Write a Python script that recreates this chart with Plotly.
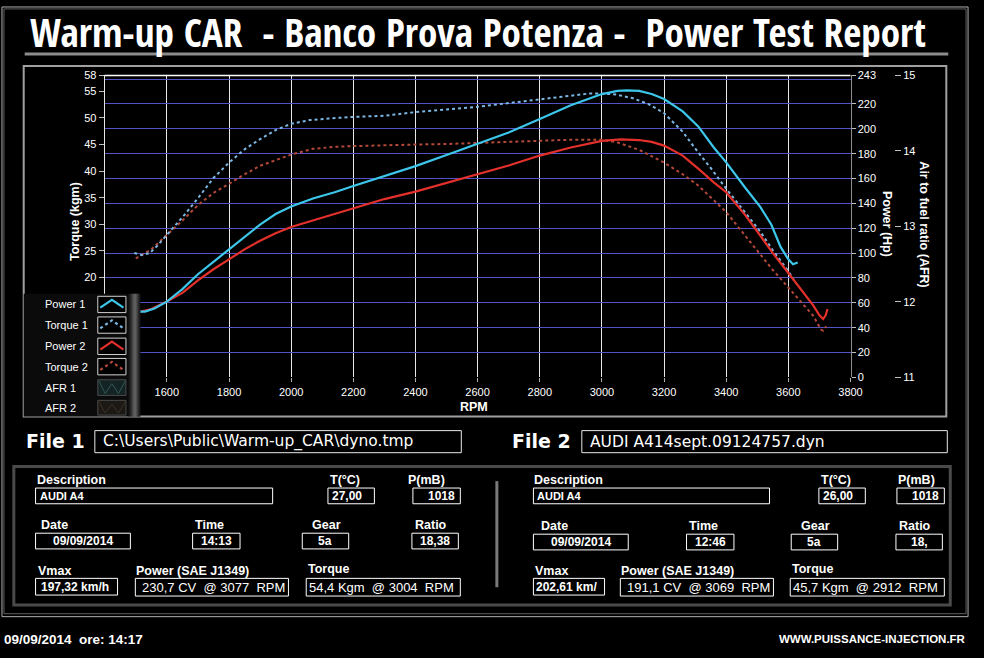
import plotly.graph_objects as go

W, H = 984, 658

# ---- dyno curves (rpm / hp / kgm) ----
rpm_power1 = [1500, 1530, 1560, 1600, 1650, 1700, 1750, 1800, 1850, 1900, 1950, 2000, 2070,
              2140, 2200, 2300, 2400, 2500, 2600, 2700, 2800, 2900, 3000, 3050, 3080, 3120,
              3160, 3200, 3260, 3310, 3360, 3400, 3460, 3510, 3545, 3575, 3600, 3615, 3630]
power1_hp = [53, 53, 55.5, 61, 71, 83, 93, 103, 113, 123, 131.5, 137.5, 144,
             149, 154, 162, 170, 179, 188, 197, 208, 219, 228, 230.5, 231, 230.5,
             228, 224, 214, 202, 185, 173, 153, 137, 123, 105, 95, 91, 92.5]

rpm_torque1 = [1495, 1520, 1545, 1570, 1600, 1650, 1700, 1750, 1800, 1850, 1900, 1950, 2000,
               2060, 2120, 2200, 2300, 2400, 2500, 2600, 2700, 2800, 2900, 2960, 3000, 3045,
               3100, 3150, 3200, 3260, 3310, 3350, 3400, 3460, 3510, 3550, 3600, 3625]
torque1_kgm = [24.6, 24.2, 24.6, 26.0, 28.0, 31.3, 34.9, 38.7, 41.6, 44.1, 46.0, 47.7, 48.9,
               49.6, 49.9, 50.2, 50.4, 51.1, 51.6, 52.1, 52.8, 53.5, 54.3, 54.6, 54.6, 54.4,
               53.7, 52.6, 50.9, 47.4, 43.5, 40.6, 36.7, 32.2, 28.6, 25.1, 21.2, 18.8]

rpm_power2 = [1500, 1550, 1600, 1650, 1700, 1750, 1800, 1850, 1900, 1950, 2000, 2100, 2200,
              2300, 2400, 2500, 2600, 2700, 2800, 2900, 3000, 3060, 3120, 3160, 3200, 3260,
              3310, 3360, 3400, 3460, 3510, 3550, 3600, 3640, 3680, 3700, 3712, 3720, 3726]
power2_hp = [52, 55, 61, 68, 78, 87, 95, 103, 110, 116, 121, 128.5, 136.5,
             143.5, 149.5, 156.5, 163, 170.5, 178.5, 185, 190.3, 191.5, 191, 189.5, 186.5, 178.5,
             168, 157, 149, 131, 114, 100, 84, 71, 58, 50, 47, 50, 55]

rpm_torque2 = [1500, 1550, 1600, 1650, 1700, 1750, 1800, 1850, 1900, 1950, 2000, 2070, 2150,
               2200, 2300, 2400, 2500, 2600, 2700, 2800, 2900, 3000, 3050, 3120, 3200, 3260,
               3310, 3400, 3460, 3510, 3550, 3600, 3640, 3680, 3705, 3712, 3722]
torque2_kgm = [23.6, 25.3, 28.0, 30.7, 33.6, 35.9, 37.6, 39.4, 41.0, 42.1, 43.1, 44.2, 44.6,
               44.7, 44.9, 45.0, 45.1, 45.3, 45.5, 45.8, 45.9, 45.9, 45.4, 44.0, 41.6, 39.4,
               37.3, 32.3, 28.0, 24.4, 21.4, 18.1, 15.4, 12.8, 10.2, 10.0, 10.8]

# no AFR recorded on this run
rpm_afr = []
afr1 = []
afr2 = []

rpm_ticks = [1600, 1800, 2000, 2200, 2400, 2600, 2800, 3000, 3200, 3400, 3600, 3800]
torque_ticks = [20, 25, 30, 35, 40, 45, 50, 55, 58]
power_ticks = [0, 20, 40, 60, 80, 100, 120, 140, 160, 180, 200, 220, 243]
afr_ticks = [11, 12, 13, 14, 15]

legend_names = ["Power 1", "Torque 1", "Power 2", "Torque 2", "AFR 1", "AFR 2"]

TITLE = "Warm-up CAR  - Banco Prova Potenza -  Power Test Report"
file_names = ["C:\\Users\\Public\\Warm-up_CAR\\dyno.tmp", "AUDI A414sept.09124757.dyn"]
descriptions = ["AUDI A4", "AUDI A4"]
temps = ["27,00", "26,00"]
pressures = ["1018", "1018"]
dates = ["09/09/2014", "09/09/2014"]
times = ["14:13", "12:46"]
gears = ["5a", "5a"]
ratios = ["18,38", "18,"]
vmax = ["197,32 km/h", "202,61 km/"]
power_peak = ["230,7 CV  @ 3077  RPM", "191,1 CV  @ 3069  RPM"]
torque_peak = ["54,4 Kgm  @ 3004  RPM", "45,7 Kgm  @ 2912  RPM"]
footer_left = "09/09/2014  ore: 14:17"
footer_right = "WWW.PUISSANCE-INJECTION.FR"

C_POW1, C_TOR1 = "#3cc6ea", "#7cb6e2"
C_POW2, C_TOR2 = "#e4302a", "#b4483a"
SANS = "Liberation Sans, Arial, sans-serif"
CONDENSED = "Open Sans Condensed, Roboto Condensed, Liberation Sans, sans-serif"
VERD = "DejaVu Sans, Verdana, sans-serif"

shapes = []
annotations = []


def fx(px):
    return px / W


def fy(py):
    return 1 - py / H


def nb(s):
    return s.replace("  ", " \u00a0")


def rect(x0, y0, x1, y1, color="white", width=1, fill=None):
    shapes.append(dict(type="rect", xref="paper", yref="paper", layer="above",
                       x0=fx(x0), x1=fx(x1), y0=fy(y1), y1=fy(y0),
                       line=dict(color=color, width=width), fillcolor=fill))


def seg(x0, y0, x1, y1, color, width=1, dash=None):
    shapes.append(dict(type="line", xref="paper", yref="paper", layer="above",
                       x0=fx(x0), x1=fx(x1), y0=fy(y0), y1=fy(y1),
                       line=dict(color=color, width=width, dash=dash)))


def poly(points, color, width=1, dash=None):
    path = "M " + " L ".join(f"{fx(x):.5f},{fy(y):.5f}" for x, y in points)
    shapes.append(dict(type="path", xref="paper", yref="paper", layer="above", path=path,
                       line=dict(color=color, width=width, dash=dash)))


def text(x, y, s, size, bold=False, anchor="left", family=SANS, color="white", angle=0):
    annotations.append(dict(xref="paper", yref="paper", x=fx(x), y=fy(y), text=nb(s),
                            showarrow=False, xanchor=anchor, yanchor="middle", textangle=angle,
                            borderpad=0,
                            font=dict(family=family, size=size, color=color,
                                      weight="bold" if bold else "normal")))


fig = go.Figure()
fig.add_trace(go.Scatter(x=rpm_torque2, y=torque2_kgm, yaxis="y", mode="lines", name="Torque 2",
                         line=dict(color=C_TOR2, width=2, dash="3px,3px")))
fig.add_trace(go.Scatter(x=rpm_torque1, y=torque1_kgm, yaxis="y", mode="lines", name="Torque 1",
                         line=dict(color=C_TOR1, width=2, dash="3px,3px")))
fig.add_trace(go.Scatter(x=rpm_power2, y=power2_hp, yaxis="y2", mode="lines", name="Power 2",
                         line=dict(color=C_POW2, width=2.2)))
fig.add_trace(go.Scatter(x=rpm_power1, y=power1_hp, yaxis="y2", mode="lines", name="Power 1",
                         line=dict(color=C_POW1, width=2.2)))
fig.add_trace(go.Scatter(x=rpm_afr, y=afr1, yaxis="y3", mode="lines", name="AFR 1"))
fig.add_trace(go.Scatter(x=rpm_afr, y=afr2, yaxis="y3", mode="lines", name="AFR 2"))
# empty trace so the power grid axis gets drawn
fig.add_trace(go.Scatter(x=rpm_afr, y=afr1, yaxis="y4", mode="lines", name="grid", hoverinfo="skip"))

tickfont = dict(family=SANS, size=11, color="white")
plot_top, plot_bottom = 70.7, 378.3

# frames
rect(2, 1, 980, 622, "#b0b0b0", 1)
rect(4, 3, 978, 619, "#606060", 1)
seg(25, 49, 960, 49, "#8c8c8c", 3)
rect(24, 61, 958, 418, "#a0a0a0", 2)

# plot top border
shapes.append(dict(type="line", xref="x domain", yref="y domain", x0=0, x1=1, y0=1, y1=1,
                   line=dict(color="white", width=1.5), layer="above"))

# legend panel
rect(24, 293, 142, 418, "#000000", 0, "#0b0b0b")
for i, g in enumerate([22, 34, 50, 70, 92, 112, 124, 116, 96, 72, 50, 34]):
    rect(130 + i, 293, 131 + i, 418, f"rgb({g},{g},{g})", 0, f"rgb({g},{g},{g})")
legend_rows = [(295.7, 312.3), (316.7, 333.3), (338.3, 355), (359, 375.7), (380.7, 396.7), (401.7, 416.7)]
legend_styles = [(C_POW1, None, "#d0d0d0", None), (C_TOR1, "dot", "#d0d0d0", None),
                 (C_POW2, None, "#d0d0d0", None), (C_TOR2, "dot", "#d0d0d0", None),
                 ("#355858", None, "#4a4a4a", "#142424"), ("#3c3226", None, "#4a4a4a", "#1c1814")]
for name, (y0, y1), (col, dash, border, bg) in zip(legend_names, legend_rows, legend_styles):
    text(45, (y0 + y1) / 2, name, 11, family=SANS)
    rect(99, y0, 127.5, y1, border, 1, bg or "#000000")
    if bg is None:
        poly([(101.5, y1 - 5), (113.3, y0 + 3.5), (125, y1 - 5)], col, 2.2, dash)
    else:
        poly([(100, y0 + 1), (106.5, y1 - 2), (113.3, y0 + 4), (120, y1 - 2), (127, y0 + 1)], col, 1)

# axis titles
text(76, 220, "Torque (kgm)", 12.5, True, "center", angle=-90)
text(898, 222, "Power (Hp)", 12.5, True, "center", angle=90)
text(935, 222, "Air to fuel ratio (AFR)", 12.5, True, "center", angle=90)
text(480, 408, "RPM", 12.5, True, "center")

# title
text(29, 26, TITLE, 39.2, True, family=CONDENSED)

# file rows
for i, (lx, bx0, bx1) in enumerate([(25, 96, 467), (517, 589, 959)]):
    text(lx, 443, f"File {i + 1}", 19, True, family=VERD)
    rect(bx0, 432.5, bx1, 455, "#e8e8e8", 1)
    text(bx0 + 7, 444, file_names[i], 15.5, family=VERD)

# info panel
rect(14, 469, 962, 610, "#4a4a4a", 3)
seg(503, 484, 503, 592, "#7a7a7a", 3)

lab = dict(size=12.5, bold=True)
for i, ox in enumerate([0, 504]):
    text(36 + ox, 483, "Description", **lab)
    rect(36 + ox, 491, 276 if i == 0 else 779, 507)
    text(39 + ox, 499, descriptions[i], 11, True)
    tx0 = 332 if i == 0 else 829
    text(tx0 + 1, 483, "T(°C)", **lab)
    rect(tx0, 491, tx0 + 47, 507)
    text(tx0 + 3, 499, temps[i], 12, True)
    px0 = 418 if i == 0 else 908
    text(px0 - 6 if i == 0 else px0, 483, "P(mB)", **lab)
    rect(px0, 491, px0 + 48, 507)
    text(px0 + 44, 499, pressures[i], 12, True, "right")

    dy = 0 if i == 0 else 1
    text(40 + ox + (3 if i else 0), 529 + dy, "Date", **lab)
    rect(36 + ox, 537 + dy, 132 + ox, 553 + dy)
    text(84 + ox, 545 + dy, dates[i], 12, True, "center")
    tmx = 195 if i == 0 else 695
    text(tmx + 1, 529 + dy, "Time", **lab)
    rect(tmx, 537 + dy, tmx + 48, 553 + dy)
    text(tmx + 24, 545 + dy, times[i], 12, True, "center")
    gx = 306 if i == 0 else 801
    text(gx + 9, 529 + dy, "Gear", **lab)
    rect(gx, 537 + dy, gx + 47, 553 + dy)
    text(gx + 23.5, 545 + dy, gears[i], 12, True, "center")
    rx = 417 if i == 0 else 907
    text(rx + 2, 529 + dy, "Ratio", **lab)
    rect(rx, 537 + dy, rx + 47, 553 + dy)
    text(rx + 23.5, 545 + dy, ratios[i], 12, True, "center")

    text(37 + ox, 575, "Vmax", **lab)
    rect(36 + ox, 583, 119 if i == 0 else 612, 600)
    text(40 + ox - (2 if i else 0), 591.5, vmax[i], 12, True)
    pwx = 137 if i == 0 else 628
    text(pwx, 575, "Power (SAE J1349)", **lab)
    rect(pwx, 583, pwx + 155, 601)
    text(pwx + 6, 592, power_peak[i], 13)
    tqx = 310 if i == 0 else 800
    text(tqx + 1, 573, "Torque", **lab)
    rect(tqx, 583, tqx + 156, 601)
    text(tqx + 2, 592, torque_peak[i], 13)

text(3, 645, footer_left, 13.5, True)
text(979, 645, footer_right, 11.5, True, "right")

fig.update_layout(
    width=W, height=H, autosize=False,
    margin=dict(l=0, r=0, t=0, b=0),
    paper_bgcolor="black", plot_bgcolor="black",
    showlegend=False,
    xaxis=dict(domain=[fx(106), fx(861)], range=[1400, 3800], tickvals=rpm_ticks,
               showgrid=True, gridcolor="#e6e6e6", gridwidth=1, zeroline=False, showline=False,
               ticks="outside", ticklen=4, tickcolor="#b0b0b0", tickfont=tickfont),
    yaxis=dict(domain=[fy(plot_bottom), fy(plot_top)], range=[1.2, 58], tickvals=torque_ticks,
               showgrid=False, zeroline=False, showline=True, linecolor="#e6e6e6", linewidth=1,
               ticks="outside", ticklen=5, tickcolor="#c0c0c0", tickfont=tickfont),
    yaxis2=dict(overlaying="y", side="right", anchor="x", range=[0, 243], tickvals=power_ticks,
                showgrid=False, zeroline=False, showline=True, linecolor="#909090",
                ticks="outside", ticklen=4, tickcolor="#c0c0c0", tickfont=tickfont),
    yaxis3=dict(overlaying="y", side="right", anchor="free", position=fx(905), range=[11, 15],
                tickvals=afr_ticks, showgrid=False, zeroline=False, showline=False,
                ticks="outside", ticklen=6, tickcolor="#c0c0c0", tickfont=tickfont),
    yaxis4=dict(overlaying="y", side="right", anchor="x", range=[0, 243], tick0=0, dtick=20,
                showgrid=True, gridcolor="#5353c6", gridwidth=1, showticklabels=False,
                ticks="", showline=False, zeroline=False),
    shapes=shapes,
    annotations=annotations,
)

fig.write_html("out.html", config={"displayModeBar": False},
               post_script="document.body.style.margin='0px';")
